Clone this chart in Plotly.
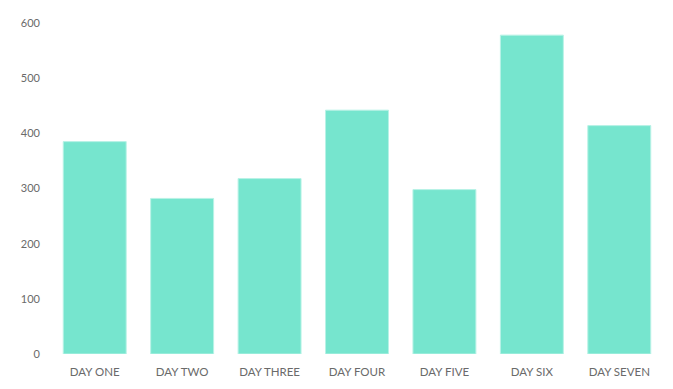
import plotly.graph_objects as go

categories = ["DAY ONE", "DAY TWO", "DAY THREE", "DAY FOUR", "DAY FIVE", "DAY SIX", "DAY SEVEN"]
values = [385, 282, 318, 442, 298, 578, 414]
y_ticks = [0, 100, 200, 300, 400, 500, 600]

fig = go.Figure(go.Bar(
    x=categories, y=values,
    marker=dict(color="#76E5CE", line=dict(color="#B8F2E6", width=1)),
    hoverinfo="x+y",
))
fig.update_layout(
    width=673, height=389,
    margin=dict(l=51, r=10, t=23, b=35),
    paper_bgcolor="white", plot_bgcolor="white",
    bargap=0.28,
    showlegend=False,
    font=dict(family="Lato", color="#666666", size=11),
    xaxis=dict(showgrid=False, showline=False, zeroline=False, ticks="",
               ticklabelstandoff=9,
               tickfont=dict(family="Lato", size=11.5, color="#6a6a6a")),
    yaxis=dict(range=[0, 600], tickvals=y_ticks, showgrid=False, showline=False,
               zeroline=False, ticks="", ticklabelstandoff=10,
               tickfont=dict(family="Lato", size=11, color="#6a6a6a")),
)
fig.write_html("out.html")
